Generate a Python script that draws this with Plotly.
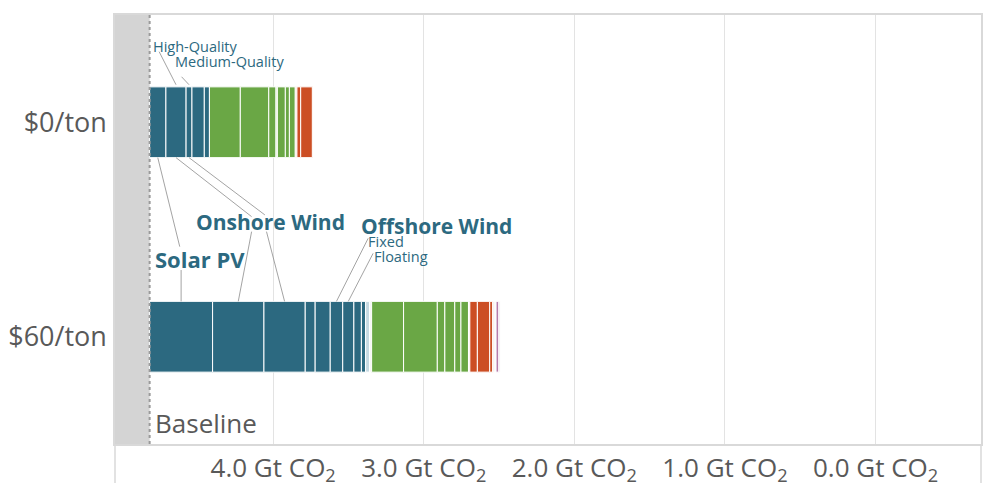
import plotly.graph_objects as go

# ---------------- data ----------------
categories = ["$0/ton", "$60/ton"]
baseline_gt = 4.82
axis_max_gt = 5.05
axis_min_gt = -0.70
x_tick_vals = [4.0, 3.0, 2.0, 1.0, 0.0]
x_tick_text = ["4.0 Gt CO<sub>2</sub>", "3.0 Gt CO<sub>2</sub>", "2.0 Gt CO<sub>2</sub>",
               "1.0 Gt CO<sub>2</sub>", "0.0 Gt CO<sub>2</sub>"]

# segment widths (Gt CO2 reduction), read left -> right
top_widths = [0.108, 0.134, 0.039, 0.082, 0.034,
              0.205, 0.189, 0.048, 0.009, 0.053, 0.027, 0.039,
              0.011, 0.025, 0.077]
top_groups = ["B", "B", "B", "B", "B",
              "G", "G", "G", "g", "G", "G", "G",
              "r", "R", "R"]

bottom_widths = [0.418, 0.341, 0.274, 0.066, 0.100, 0.083, 0.074, 0.050, 0.028,
                 0.027, 0.013,
                 0.212, 0.224, 0.050, 0.066, 0.041, 0.050,
                 0.009,
                 0.050, 0.082, 0.020,
                 0.009, 0.013, 0.019, 0.008]
bottom_groups = ["B"] * 9 + ["b", "w"] + ["G"] * 6 + ["w"] + ["R"] * 3 + ["r", "w", "P", "p"]

palette = {
    "B": "#2c6980", "b": "#c6d9e1",
    "G": "#6aa745", "g": "#d2e6c4",
    "R": "#cc4e24", "r": "#f3c9b8",
    "P": "#b57baa", "p": "#ead8e6",
    "w": "#f4f4f4",
}

TEAL = "#2c6980"
GRAY_TXT = "#595959"
LEADER = "#8c8c8c"

# ---------------- figure ----------------
fig = go.Figure()


def starts(widths):
    out, acc = [], baseline_gt
    for w in widths:
        out.append(acc)
        acc -= w
    return out


def centers(widths):
    s = starts(widths)
    return [a - w / 2 for a, w in zip(s, widths)]


for cat, widths, groups in [(categories[0], top_widths, top_groups),
                            (categories[1], bottom_widths, bottom_groups)]:
    s = starts(widths)
    fig.add_trace(go.Bar(
        orientation="h",
        y=[cat] * len(widths),
        x=[-w for w in widths],
        base=s,
        width=0.33,
        marker=dict(color=[palette[g] for g in groups],
                    line=dict(color="white", width=1)),
        showlegend=False,
        hoverinfo="skip",
    ))

# grey baseline region and dotted baseline
fig.add_vrect(x0=axis_max_gt, x1=baseline_gt, fillcolor="#d4d4d4", line_width=0, layer="below")
fig.add_vline(x=baseline_gt, line=dict(color="#9a9a9a", width=2, dash="dot"))

# ---------------- leader lines ----------------
tc = centers(top_widths)
bc = centers(bottom_widths)
half = 0.165
top_bot = 1 - half     # bottom edge of top bar (category index 1)
top_top = 1 + half
bot_top = 0 + half     # top edge of bottom bar


def seg(x0, y0, x1, y1):
    fig.add_shape(type="line", xref="x", yref="y", x0=x0, y0=y0, x1=x1, y1=y1,
                  line=dict(color=LEADER, width=0.8))


# Solar PV
seg(tc[0], top_bot, 4.620, 0.420)
seg(bc[0], 0.311, bc[0], bot_top)
# Onshore wind high quality
seg(tc[1], top_bot, 4.143, 0.560)
seg(4.143, 0.490, bc[1], bot_top)
# Onshore wind medium quality
seg(tc[2], top_bot, 4.055, 0.568)
seg(4.044, 0.490, bc[2], bot_top)
# High/Medium quality labels
seg(4.757, 1.329, tc[1], top_top + 0.01)
seg(4.608, 1.212, tc[2], top_top + 0.01)
# Offshore fixed / floating
seg(3.369, 0.459, bc[5], bot_top)
seg(3.336, 0.389, bc[6], bot_top)

# ---------------- text labels ----------------
FONT = "Open Sans"


def label(x, y, text, size, color=TEAL, bold=False):
    fig.add_annotation(x=x, y=y, xref="x", yref="y", text=f"<b>{text}</b>" if bold else text,
                       showarrow=False, xanchor="left", yanchor="middle",
                       font=dict(family=FONT, size=size, color=color))


label(4.808, 1.355, "High-Quality", 14.5)
label(4.668, 1.281, "Medium-Quality", 14.5)
label(4.800, 0.362, "Solar PV", 22, bold=True)
label(4.528, 0.535, "Onshore Wind", 21, bold=True)
label(3.432, 0.516, "Offshore Wind", 21, bold=True)
label(3.386, 0.442, "Fixed", 14.5)
label(3.346, 0.376, "Floating", 14.5)
label(4.796, -0.402, "Baseline", 26, color=GRAY_TXT)

# frame extensions below the plot area
for xp in (0, 1):
    fig.add_shape(type="line", xref="paper", yref="paper", x0=xp, x1=xp, y0=-0.091, y1=0,
                  line=dict(color="#d9d9d9", width=1.5))

# page body adds an 8px offset, so the figure is sized to the remaining window
fig.update_layout(
    width=990, height=491,
    margin=dict(l=107, r=17, t=7, b=55),
    paper_bgcolor="white", plot_bgcolor="white",
    barmode="overlay",
    font=dict(family=FONT, color=GRAY_TXT),
    xaxis=dict(range=[axis_max_gt, axis_min_gt], tickvals=x_tick_vals, ticktext=x_tick_text,
               showgrid=True, gridcolor="#e3e3e3", gridwidth=1, zeroline=False,
               showline=True, linecolor="#d9d9d9", linewidth=1.5, mirror=True,
               ticks="", ticklabelstandoff=0, automargin=False,
               tickfont=dict(family=FONT, size=26, color=GRAY_TXT)),
    yaxis=dict(type="category", categoryorder="array", categoryarray=[categories[1], categories[0]],
               range=[-0.5, 1.5], showgrid=False, zeroline=False,
               showline=True, linecolor="#d9d9d9", linewidth=1.5, mirror=True,
               ticks="", ticklabelstandoff=1, automargin=False,
               tickfont=dict(family=FONT, size=27, color=GRAY_TXT)),
)

fig.write_html("out.html")
